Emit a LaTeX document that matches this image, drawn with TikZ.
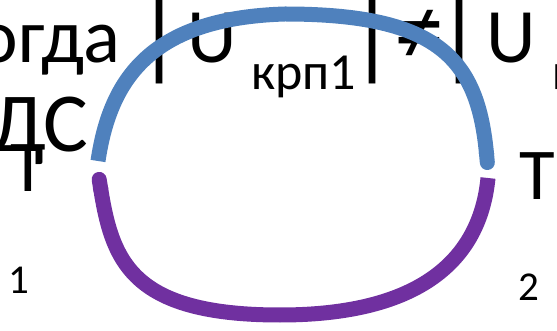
\documentclass[tikz,border=0pt]{standalone}
\usepackage{fontspec}
\setmainfont{Carlito}
\usetikzlibrary{arrows.meta}
\definecolor{arcblue}{HTML}{4F81BD}
\definecolor{arcpurple}{HTML}{7030A0}
\begin{document}
\begin{tikzpicture}[x=1pt, y=-1pt,
    big/.style={inner sep=0pt, font=\fontsize{77}{80}\selectfont},
    bar/.style={inner sep=0pt, font=\fontsize{100}{104}\selectfont},
    mid/.style={inner sep=0pt, font=\fontsize{52}{56}\selectfont},
    small/.style={inner sep=0pt, font=\fontsize{41}{44}\selectfont},
    arc/.style={line width=15pt}]
    \useasboundingbox (0, 0) rectangle (557, 331);
    \clip (0, 0) rectangle (557, 331);

    % first line
    \node[big, anchor=base east] (kogda) at (121, 63) {Когда};
    \node[bar, anchor=base] (barA) at (160, 68) {|};
    \node[big, anchor=base] (uA) at (212, 63) {U};
    \node[mid, anchor=base west] (subA) at (251, 90) {крп1};
    \node[bar, anchor=base] (barB) at (373, 68) {|};
    \node[inner sep=0pt, font=\fontsize{100}{104}\selectfont, anchor=base] (neq) at (419, 65) {≠};
    \node[bar, anchor=base] (barC) at (460, 68) {|};
    \node[big, anchor=base] (uB) at (511, 63) {U};
    \node[mid, anchor=base west] (subB) at (552, 90) {крп2};

    % second line
    \node[inner sep=0pt, font=\fontsize{84}{88}\selectfont, anchor=base east] (eds) at (88, 152) {ДС};
    \node[big, font=\fontsize{73}{76}\selectfont, anchor=base] (tA) at (28.5, 192) {Т};
    \node[big, font=\fontsize{73}{76}\selectfont, anchor=base] (tB) at (537, 200) {Т};
    \node[small, anchor=base] (nA) at (18.5, 293) {1};
    \node[small, anchor=base] (nB) at (528.5, 300) {2};

    % contour
    \coordinate (left top) at (98, 161);
    \coordinate (right top) at (488, 170);
    \coordinate (left low) at (98, 172);
    \coordinate (right low) at (488, 178);
    \draw[arc, arcblue, -{Round Cap[]}] (left top)
        .. controls (110, 80) and (150, 18) .. (285, 14)
        .. controls (440, 14) and (478, 60) .. (right top);
    \draw[arc, arcpurple, {Round Cap[]}-] (left low)
        .. controls (112, 260) and (130, 315) .. (280, 315)
        .. controls (420, 315) and (480, 260) .. (right low);
\end{tikzpicture}
\end{document}
